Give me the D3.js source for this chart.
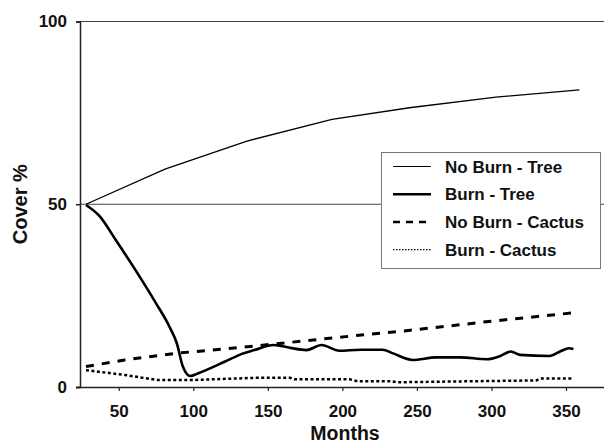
<!DOCTYPE html>
<head>
  <title>Cover % by Months</title>
  <style>
    body { margin: 0; background: #fff; }
    text { font-family: "Liberation Sans", Arial, sans-serif; font-weight: bold; fill: #111; }
  </style>
</head>
<body>
  <script src="https://cdn.jsdelivr.net/npm/d3@7"></script>
  <script>
    // data (month, cover %)
    var noBurnTree = [[28, 50], [81, 59.6], [136, 67.3], [193, 73.2], [245, 76.4], [303, 79.3], [359, 81.3]];
    var burnTree = [[28, 49.8], [37, 46.8], [48, 40.2], [64, 30.2], [75, 22.9], [84, 16.5], [89, 11.9],
                    [93, 5.6], [98, 3.0], [103, 3.7], [121, 6.9], [131, 8.8], [141, 10.1], [154, 11.5],
                    [165, 10.7], [176, 10.1], [186, 11.5], [198, 9.9], [212, 10.2], [227, 10.2], [234, 9.2],
                    [247, 7.4], [263, 8.1], [279, 8.1], [297, 7.6], [306, 8.5], [313, 9.7], [319, 8.8],
                    [339, 8.5], [346, 9.7], [352, 10.6], [355, 10.4]];
    var noBurnCactus = [[28, 5.6], [54, 7.4], [88, 9.2], [141, 11.2], [205, 13.9], [243, 15.4], [300, 18.0], [355, 20.3]];
    var burnCactus = [[28, 4.6], [40, 4.0], [54, 3.3], [76, 1.9], [99, 1.9], [141, 2.5], [165, 2.5], [168, 2.1],
                      [205, 2.1], [210, 1.6], [232, 1.6], [237, 1.3], [330, 1.8], [333, 2.3], [355, 2.3]];
    var seriesNames = ["No Burn - Tree", "Burn - Tree", "No Burn - Cactus", "Burn - Cactus"];
    var xTicks = [50, 100, 150, 200, 250, 300, 350];
    var yTicks = [0, 50, 100];

    var width = 604, height = 445;

    var svg = d3.select("body").append("svg")
        .attr("width", width)
        .attr("height", height);

    var x = d3.scaleLinear().domain([24, 375.5]).range([80, 604]);
    var y = d3.scaleLinear().domain([0, 100]).range([387, 21.5]);

    // grid lines at 50 and 100
    svg.selectAll(".grid")
       .data(yTicks.filter(function(d) { return d > 0; }))
       .enter().append("line")
       .attr("x1", x(24)).attr("x2", 604)
       .attr("y1", function(d) { return y(d); })
       .attr("y2", function(d) { return y(d); })
       .attr("stroke", "#444")
       .attr("stroke-width", 1.2);

    // Y axis
    var yAxis = svg.append("g")
       .attr("transform", "translate(" + x(24) + ",0)")
       .call(d3.axisLeft(y).tickValues(yTicks).tickSize(4).tickPadding(9));
    yAxis.select(".domain").attr("stroke", "#222").attr("stroke-width", 1.5);
    yAxis.selectAll(".tick line").attr("stroke", "#222").attr("stroke-width", 1.5);
    yAxis.selectAll(".tick text").style("font-size", "17px").attr("fill", "#111");

    // X axis
    var xAxis = svg.append("g")
       .attr("transform", "translate(0," + y(0) + ")")
       .call(d3.axisBottom(x).tickValues(xTicks).tickSize(4).tickPadding(14));
    xAxis.select(".domain").attr("d", "M76,0.5H604").attr("stroke", "#222").attr("stroke-width", 1.5);
    xAxis.selectAll(".tick line").attr("stroke", "#222").attr("stroke-width", 1.2);
    xAxis.selectAll(".tick text").style("font-size", "17px").attr("fill", "#111");

    // axis labels
    svg.append("text")
        .attr("x", 345)
        .attr("y", 440)
        .style("text-anchor", "middle")
        .style("font-size", "19.5px")
        .text("Months");

    svg.append("text")
        .attr("transform", "translate(27," + y(50) + ") rotate(-90)")
        .style("text-anchor", "middle")
        .style("font-size", "20px")
        .text("Cover %");

    // line styles
    var styles = [
      {data: noBurnTree, w: 1.3, dash: null, curve: d3.curveLinear},
      {data: burnTree, w: 2.6, dash: null, curve: d3.curveMonotoneX},
      {data: noBurnCactus, w: 3, dash: "8,8", curve: d3.curveLinear},
      {data: burnCactus, w: 2.5, dash: "3,2.5", curve: d3.curveLinear}
    ];

    styles.forEach(function(s) {
      var line = d3.line()
          .x(function(d) { return x(d[0]); })
          .y(function(d) { return y(d[1]); })
          .curve(s.curve);
      svg.append("path")
         .datum(s.data)
         .attr("d", line)
         .attr("fill", "none")
         .attr("stroke", "#000")
         .attr("stroke-width", s.w)
         .attr("stroke-dasharray", s.dash);
    });

    // legend
    var legend = svg.append("g");
    legend.append("rect")
        .attr("x", 381.5).attr("y", 152.5)
        .attr("width", 219).attr("height", 116)
        .attr("fill", "#fff")
        .attr("stroke", "#777")
        .attr("stroke-width", 1);

    var legendW = [1, 2.6, 2.5, 1.2];
    var legendDash = [null, null, "7,6", "1.5,1.5"];
    seriesNames.forEach(function(name, i) {
      var ly = 166.5 + i * 27.7;
      legend.append("line")
          .attr("x1", 393).attr("x2", 431)
          .attr("y1", ly).attr("y2", ly)
          .attr("stroke", "#000")
          .attr("stroke-width", legendW[i])
          .attr("stroke-dasharray", legendDash[i]);
      legend.append("text")
          .attr("x", 445)
          .attr("y", ly + 6)
          .style("font-size", "17px")
          .text(name);
    });
  </script>
</body>
